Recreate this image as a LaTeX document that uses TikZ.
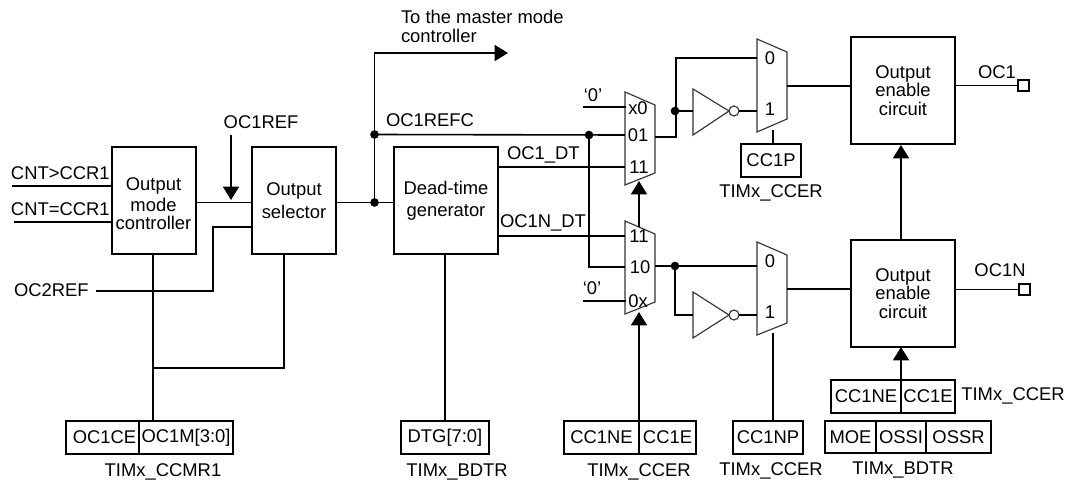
\documentclass[tikz,border=0pt]{standalone}
\usepackage{fontspec}
\setmainfont{Liberation Sans}
\usetikzlibrary{arrows.meta,calc}
\tikzset{
  block/.style n args={2}{draw,inner sep=0pt,outer sep=0pt,align=center,
    minimum width=#1*0.75pt,minimum height=#2*0.75pt},
  lbl/.style={inner sep=0pt,outer sep=0pt,align=center},
  head/.style={-{Triangle[length=10pt,width=12pt]}},
  dot/.style={circle,fill,inner sep=0pt,minimum size=6.5pt},
  pin/.style={draw,fill=white,inner sep=0pt,outer sep=0pt,minimum size=8pt},
  bubble/.style={draw,fill=white,circle,inner sep=0pt,outer sep=0pt,minimum size=7.5pt},
  thinpart/.style={line width=0.85pt,draw=black!80}
}

\begin{document}
\begin{tikzpicture}[x=0.75pt,y=-0.75pt,line width=1.2pt,
    every node/.append style={font=\fontsize{13.8}{13.8}\selectfont}]
  \useasboundingbox (0,0) rectangle (1073,482);
  % Blocks
  \node[block={84}{107}] (omc) at (154,200.5) {};
  \node[lbl] (omctext) at (153.5,203.5) {Output\\[2pt]mode\\controller};
  \node[block={84}{107}] (sel) at (294,200.5) {Output\\[3pt]selector};
  \node[block={104}{107}] (dtg) at (446,200.5) {Dead-time\\[3pt]generator};
  \node[block={104}{107}] (oen) at (903,90.5) {Output\\enable\\circuit};
  \node[block={104}{107}] (oenn) at (903,293.5) {Output\\enable\\circuit};
  % Registers
  \node[block={73}{33}] (oce) at (102.5,437.5) {\hspace{3pt}OC1CE};
  \node[block={94}{33},anchor=west] (ocm) at (oce.east) {OC1M[3:0]};
  \node[block={88}{33}] (dtgreg) at (445,437.5) {DTG[7:0]};
  \node[block={75}{33}] (ccne) at (601.5,437.5) {CC1NE};
  \node[block={57}{33},anchor=west] (cce) at (ccne.east) {CC1E};
  \node[block={70}{33}] (ccnp) at (768,437.5) {CC1NP};
  \node[block={60}{33}] (ccp) at (771,160.5) {CC1P};
  \node[block={70}{33}] (ccneb) at (866,396.5) {CC1NE};
  \node[block={54}{33},anchor=west] (cceb) at (ccneb.east) {CC1E};
  \node[block={51}{32}] (moe) at (850.5,437) {MOE};
  \node[block={50}{32},anchor=west] (ossi) at (moe.east) {OSSI};
  \node[block={65}{32},anchor=west] (ossr) at (ossi.east) {OSSR};
  % Register names
  \node[lbl] (ccmrname) at (163,472) {TIMx\_CCMR1};
  \node[lbl] (bdtrname) at (457,472) {TIMx\_BDTR};
  \node[lbl] (ccername) at (639,472) {TIMx\_CCER};
  \node[lbl] (ccernname) at (771,471) {TIMx\_CCER};
  \node[lbl] (bdtrnname) at (903,470) {TIMx\_BDTR};
  \node[lbl] (ccerpname) at (771,193) {TIMx\_CCER};
  \node[lbl] (ccerbname) at (1013,396) {TIMx\_CCER};
  % Signal names
  \node[lbl,anchor=west] (gtname) at (11,173) {CNT>CCR1};
  \node[lbl,anchor=west] (eqname) at (11,209) {CNT=CCR1};
  \node[lbl,anchor=west] (oc2name) at (14,290) {OC2REF};
  \node[lbl] (ocname) at (261,122) {OC1REF};
  \node[lbl,anchor=west] (refcname) at (386,120) {OC1REFC};
  \node[lbl,anchor=west] (dtname) at (507,155) {OC1\_DT};
  \node[lbl,anchor=west] (dtnname) at (500,223) {OC1N\_DT};
  \node[lbl,anchor=west,align=left] (mastername) at (401,26.5) {To the master mode\\[1pt]controller};
  \node[lbl] (zeroa) at (593,95) {‘0’};
  \node[lbl] (zerob) at (592,288) {‘0’};
  \node[lbl] (ocout) at (997,72) {OC1};
  \node[lbl] (ocnout) at (1000,270) {OC1N};
  % Multiplexers
  \draw[thinpart] (625,92) -- (655,105) -- (655,173) -- (625,185) -- cycle;
  \draw[thinpart] (625,221) -- (655,234) -- (655,302) -- (625,314) -- cycle;
  \draw[thinpart] (757,39) -- (787,52) -- (787,119) -- (757,132) -- cycle;
  \draw[thinpart] (757,242) -- (787,255) -- (787,323) -- (757,335) -- cycle;
  \foreach \t/\x/\y in {x0/638/108,01/638/135,11/639/167,11/639/236,10/640/267,0x/638/301,
                        0/770/58,1/770/109,0/770/261,1/770/312}
    \node[lbl] at (\x,\y) {\t};
  % Inverters
  \draw[thinpart] (693,89) coordinate (inva) -- (693,135) -- (729,111) -- cycle;
  \draw[thinpart] (693,292) coordinate (invb) -- (693,338) -- (729,315) -- cycle;
  \node[bubble,thinpart] (bubblea) at (734,111) {};
  \node[bubble,thinpart] (bubbleb) at (734,315) {};
  % Free wire ends
  \coordinate (gtin) at (12,186);
  \coordinate (eqin) at (14,222);
  \coordinate (oc2in) at (96,291);
  \coordinate (ocdrop) at (231,135);
  \coordinate (arrowend) at (508,53);
  \coordinate (zeroain) at (583,107);
  \coordinate (zerobin) at (583,301);
  \coordinate (outa) at (655,137);
  \coordinate (outb) at (655,266);
  \node[dot] (jfb) at (374.5,202.5) {};
  \node[dot] (jref) at (374.5,134.5) {};
  \node[dot] (jdt) at (589,135) {};
  \node[dot] (joa) at (675,111) {};
  \node[dot] (job) at (675,266) {};
  % Left part
  \draw (gtin) -- (gtin -| omc.west);
  \draw (eqin) -- (eqin -| omc.west);
  \draw (omc.east |- jfb) -- (sel.west |- jfb);
  \draw[head] (ocdrop) -- (231,200);
  \draw (oc2in) -- (213,291) -- (213,227) -- (sel.west |- 0,227);
  \draw (omc.south -| ocm.west) ++(14,0) coordinate (omcfoot) -- (omcfoot |- ocm.north);
  \draw (sel.south -| 284,0) -- (284,368) -- (153,368);
  \draw (dtg.south -| dtgreg.north) -- (dtgreg.north);
  % Output of the selector
  \draw (sel.east |- jfb) -- (dtg.west |- jfb);
  \draw[head] (jfb.center) -- (jfb |- arrowend) -- (arrowend);
  \draw (jref.center) -- (625,135);
  % Multiplexer inputs
  \draw (zeroain) -- (626,107);
  \draw (zerobin) -- (626,301);
  \draw (dtg.east |- 0,167) -- (625,167);
  \draw (dtg.east |- 0,236) -- (625,236);
  \draw (jdt.center) -- (589,267) -- (625,267);
  \draw[head] (639,227) -- (639,181);
  \draw[head] (ccne.north east) -- (639,312);
  % Upper branch
  \draw (outa) -- (676,137) -- (676,58) -- (757,58);
  \draw (joa.center) -- (inva |- joa);
  \draw (bubblea) -- (757,111);
  \draw (787,86) -- (oen.west |- 0,86);
  \draw (773,130) -- (773,144);
  % Lower branch
  \draw (outb) -- (757,266);
  \draw (job.center) -- (675,315) -- (693,315);
  \draw (bubbleb) -- (757,315);
  \draw (787,289) -- (oenn.west |- 0,289);
  \draw (ccnp.north -| 773,0) -- (773,333);
  % Enable circuits
  \draw[head] (oenn.north) ++(-2,0) -- ++(0,-95);
  \draw[head] (ccneb.north east) -- (oenn.south -| ccneb.north east);
  \node[pin] (pina) at (1023.5,85.5) {};
  \node[pin] (pinb) at (1024.5,289.5) {};
  \draw (oen.east |- pina) -- (pina);
  \draw (oenn.east |- pinb) -- (pinb);
\end{tikzpicture}
\end{document}
